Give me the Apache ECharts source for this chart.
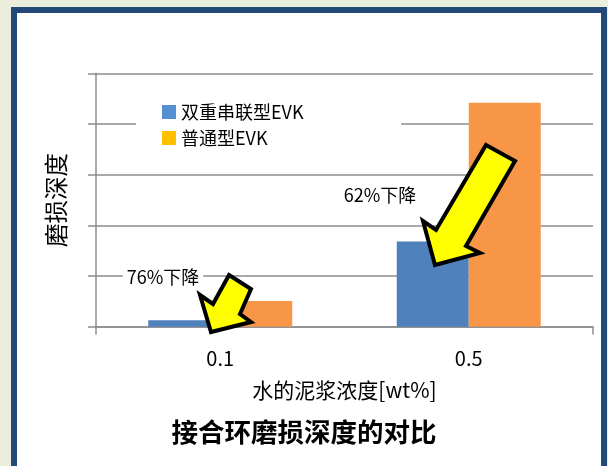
<!DOCTYPE html>
<html><head><meta charset="utf-8">
<script src="https://cdn.jsdelivr.net/npm/echarts@6/dist/echarts.min.js"></script>
<style>
html,body{margin:0;padding:0;width:608px;height:466px;overflow:hidden;background:#EBEEDC;}
#frame{position:absolute;left:11px;top:7px;width:584px;height:480px;background:#fff;border:6px solid #23497B;border-bottom:none;}
#chart{position:absolute;left:0;top:0;width:608px;height:466px;}
</style></head>
<body>
<div id="frame"></div>
<div id="chart"></div>
<script>
const categories = ['0.1', '0.5'];
const seriesNames = ['双重串联型EVK', '普通型EVK'];
const dualSeries = [0.126, 1.68];
const normalSeries = [0.507, 4.42];
const yTicks = [0, 1, 2, 3, 4, 5];
const annotations = ['76%下降', '62%下降'];

const FONT = '"Noto Sans CJK SC", "Noto Sans", sans-serif';
const chart = echarts.init(document.getElementById('chart'), null, {renderer: 'canvas'});
const gridCol = '#8c8c8c';
function arrow(points) {
  return {type: 'polygon', z: 20, shape: {points: points},
    style: {fill: '#FFFF00', stroke: '#000', lineWidth: 4, lineJoin: 'miter'}};
}
function tick(x) {
  return {type: 'line', z: 5, shape: {x1: x, y1: 326.7, x2: x, y2: 334.5},
    style: {stroke: gridCol, lineWidth: 1.5}};
}
chart.setOption({
  animation: false,
  backgroundColor: 'transparent',
  textStyle: {fontFamily: FONT},
  title: {text: '接合环磨损深度的对比', left: 'center', top: 414,
    textStyle: {fontFamily: FONT, fontSize: 26.5, fontWeight: 'bold', color: '#000'}},
  grid: {left: 96, right: 15, top: 73.3, bottom: 139.3},
  legend: {orient: 'vertical', left: 157, top: 98, itemWidth: 14, itemHeight: 14, itemGap: 8,
    textStyle: {fontFamily: FONT, fontSize: 18, color: '#000', lineHeight: 18},
    data: [{name: seriesNames[0], icon: 'rect', itemStyle: {color: '#558ED5'}},
           {name: seriesNames[1], icon: 'rect', itemStyle: {color: '#FFC000'}}]},
  xAxis: {type: 'category', data: categories,
    name: '水的泥浆浓度[wt%]', nameLocation: 'middle', nameGap: 53,
    nameTextStyle: {fontFamily: FONT, fontSize: 21, color: '#000'},
    axisLine: {lineStyle: {color: gridCol, width: 1.5}},
    axisTick: {show: false},
    axisLabel: {fontFamily: FONT, fontSize: 20, color: '#000', margin: 22}},
  yAxis: {type: 'value', min: yTicks[0], max: yTicks[yTicks.length - 1], interval: 1,
    name: '磨损深度', nameLocation: 'middle', nameRotate: 90, nameGap: 28,
    nameTextStyle: {fontFamily: FONT, fontSize: 23.5, color: '#000'},
    axisLine: {show: true, lineStyle: {color: gridCol, width: 1.5}},
    axisTick: {show: true, length: 8, lineStyle: {color: gridCol, width: 1.5}},
    axisLabel: {show: false},
    splitLine: {lineStyle: {color: gridCol, width: 1.5}}},
  series: [
    {name: seriesNames[0], type: 'bar', data: dualSeries, barWidth: 72, barGap: '0%',
      itemStyle: {color: '#4F81BD'}},
    {name: seriesNames[1], type: 'bar', data: normalSeries, barWidth: 72, barGap: '0%',
      itemStyle: {color: '#F79646'}}
  ],
  graphic: [
    {type: 'rect', z: 3, shape: {x: 136, y: 90, width: 265, height: 62}, style: {fill: '#fff'}},
    tick(96), tick(593),
    {type: 'text', z: 10, x: 163, y: 277, style: {text: annotations[0], font: '18px ' + FONT, fill: '#000',
      align: 'center', verticalAlign: 'middle', backgroundColor: '#fff', padding: [2, 4]}},
    {type: 'text', z: 10, x: 380, y: 195, style: {text: annotations[1], font: '18px ' + FONT, fill: '#000',
      align: 'center', verticalAlign: 'middle', backgroundColor: '#fff', padding: [2, 4]}},
    arrow([[229, 275], [251, 289], [240, 314], [251, 322], [211, 332], [200, 295], [213, 304]]),
    arrow([[486, 145], [515, 161], [466, 246], [480, 253], [435, 265], [423, 221], [436, 230]])
  ]
});
</script>
</body></html>
